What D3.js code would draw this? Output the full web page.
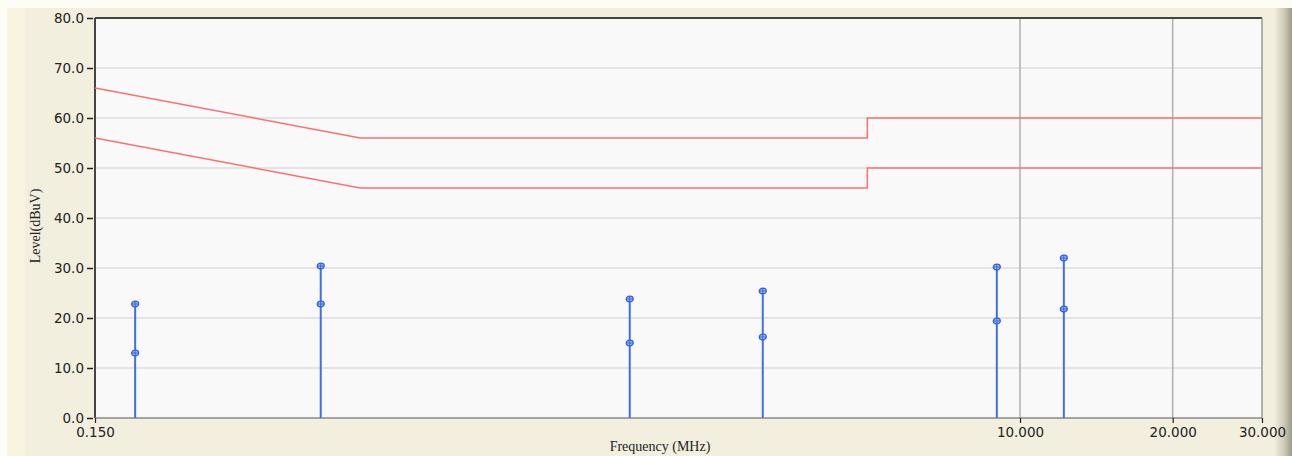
<!DOCTYPE html>
<html>
<head>
<meta charset="utf-8">
<script src="https://cdn.jsdelivr.net/npm/d3@7.9.0/dist/d3.min.js"></script>
<style>
  html, body { margin: 0; padding: 0; background: #fff; }
  svg { display: block; }
</style>
</head>
<body>
<svg id="chart" width="1292" height="456"></svg>
<script>
// frequency of each measured peak (MHz)
const peakFreqs = [0.18, 0.418, 1.70, 3.11, 9.0, 12.2];
// quasi-peak and average readings (dBuV)
const qpLevels = [22.8, 30.4, 23.8, 25.4, 30.2, 32.0];
const avLevels = [13.0, 22.8, 15.0, 16.2, 19.4, 21.8];

// limit lines: [freq, level]
const qpLimit = [[0.15, 66], [0.5, 56], [5, 56], [5, 60], [30, 60]];
const avLimit = [[0.15, 56], [0.5, 46], [5, 46], [5, 50], [30, 50]];

const yTicks = [0, 10, 20, 30, 40, 50, 60, 70, 80];
const xTicks = [0.15, 10, 20, 30];
const xGrid = [10, 20];

const width = 1292, height = 456;
const area = { left: 95, right: 1262, top: 18, bottom: 418 };

const svg = d3.select('#chart');

// background
svg.append('rect').attr('width', width).attr('height', height).attr('fill', '#f2efdf');
svg.append('rect').attr('x', 0).attr('y', 0).attr('width', width).attr('height', 8).attr('fill', '#fdfcf5');
svg.append('rect').attr('x', 0).attr('y', 0).attr('width', 7).attr('height', height).attr('fill', '#fdfcf5');
svg.append('rect').attr('x', 7).attr('y', 8).attr('width', 18).attr('height', height).attr('fill', '#f8f4e0');

const grad = svg.append('defs').append('linearGradient').attr('id', 'edge');
grad.append('stop').attr('offset', '0%').attr('stop-color', '#f2efdf');
grad.append('stop').attr('offset', '60%').attr('stop-color', '#c9c6b2');
grad.append('stop').attr('offset', '100%').attr('stop-color', '#9d9a88');
svg.append('rect').attr('x', 1274).attr('y', 8).attr('width', 18).attr('height', height).attr('fill', 'url(#edge)');

const x = d3.scaleLog().domain([0.15, 30]).range([area.left, area.right]);
const y = d3.scaleLinear().domain([0, 80]).range([area.bottom, area.top]);

// plot area
svg.append('rect')
  .attr('x', area.left).attr('y', area.top)
  .attr('width', area.right - area.left).attr('height', area.bottom - area.top)
  .attr('fill', '#f9f9f9');

// gridlines
svg.append('g')
  .selectAll('line')
  .data(yTicks.slice(1, -1))
  .join('line')
  .attr('x1', area.left).attr('x2', area.right)
  .attr('y1', (d) => y(d)).attr('y2', (d) => y(d))
  .attr('stroke', '#dcdcdc').attr('stroke-width', 1.5);

svg.append('g')
  .selectAll('line')
  .data(xGrid)
  .join('line')
  .attr('x1', (d) => x(d)).attr('x2', (d) => x(d))
  .attr('y1', area.top).attr('y2', area.bottom)
  .attr('stroke', '#b4b4b4').attr('stroke-width', 1.6);

// frame
svg.append('line').attr('x1', area.left).attr('x2', area.right).attr('y1', area.top).attr('y2', area.top)
  .attr('stroke', '#444').attr('stroke-width', 2);
svg.append('line').attr('x1', area.left).attr('x2', area.left).attr('y1', area.top).attr('y2', area.bottom)
  .attr('stroke', '#444').attr('stroke-width', 2);
svg.append('line').attr('x1', area.left).attr('x2', area.right).attr('y1', area.bottom).attr('y2', area.bottom)
  .attr('stroke', '#888').attr('stroke-width', 1.5);
svg.append('line').attr('x1', area.right).attr('x2', area.right).attr('y1', area.top).attr('y2', area.bottom)
  .attr('stroke', '#999').attr('stroke-width', 1.5);

// axes
const tickFont = 'Verdana, "DejaVu Sans", sans-serif';
const yAxis = d3.axisLeft(y).tickValues(yTicks).tickFormat(d3.format('.1f')).tickSize(6).tickPadding(3);
const yg = svg.append('g').attr('transform', `translate(${area.left - 2},0)`).call(yAxis);
yg.select('.domain').remove();
yg.selectAll('line').attr('stroke', '#222').attr('stroke-width', 1.5);
yg.selectAll('text').attr('font-family', tickFont).attr('font-size', 13.5).attr('fill', '#222');

const xAxis = d3.axisBottom(x).tickValues(xTicks).tickFormat(d3.format('.3f')).tickSize(5).tickPadding(4);
const xg = svg.append('g').attr('transform', `translate(0,${area.bottom})`).call(xAxis);
xg.select('.domain').remove();
xg.selectAll('line').attr('stroke', '#222').attr('stroke-width', 1.2);
xg.selectAll('text').attr('font-family', tickFont).attr('font-size', 13.5).attr('fill', '#222');

// axis titles
svg.append('text')
  .attr('transform', `translate(40,226) rotate(-90)`)
  .attr('text-anchor', 'middle')
  .attr('font-family', '"Liberation Serif", "Times New Roman", serif')
  .attr('font-size', 14).attr('fill', '#222')
  .text('Level(dBuV)');
svg.append('text')
  .attr('x', 660).attr('y', 451)
  .attr('text-anchor', 'middle')
  .attr('font-family', '"Liberation Serif", "Times New Roman", serif')
  .attr('font-size', 14).attr('fill', '#222')
  .text('Frequency (MHz)');

// limit lines
const limitLine = d3.line().x((d) => x(d[0])).y((d) => y(d[1]));
[qpLimit, avLimit].forEach((lim) => {
  svg.append('path').attr('d', limitLine(lim))
    .attr('fill', 'none').attr('stroke', '#ff6f6f').attr('stroke-width', 1.5);
});

// peaks
const peaks = peakFreqs.map((f, i) => ({ f, qp: qpLevels[i], av: avLevels[i] }));
const pg = svg.append('g');
pg.selectAll('line.stem')
  .data(peaks)
  .join('line')
  .attr('class', 'stem')
  .attr('x1', (d) => x(d.f)).attr('x2', (d) => x(d.f))
  .attr('y1', area.bottom).attr('y2', (d) => y(d.qp))
  .attr('stroke', '#3f70e6').attr('stroke-width', 2);

const marks = peaks.flatMap((d) => [{ f: d.f, v: d.qp }, { f: d.f, v: d.av }]);
const mg = pg.selectAll('g.mark')
  .data(marks)
  .join('g')
  .attr('class', 'mark')
  .attr('transform', (d) => `translate(${x(d.f)},${y(d.v)})`);
mg.append('ellipse').attr('rx', 3.5).attr('ry', 2.8)
  .attr('fill', '#a9c0f5').attr('stroke', '#2f62e0').attr('stroke-width', 1.3);
mg.append('line').attr('x1', -3.5).attr('x2', 3.5).attr('y1', 0).attr('y2', 0)
  .attr('stroke', '#2f62e0').attr('stroke-width', 1);
mg.append('line').attr('x1', 0).attr('x2', 0).attr('y1', -2.8).attr('y2', 2.8)
  .attr('stroke', '#2f62e0').attr('stroke-width', 1);
</script>
</body>
</html>
